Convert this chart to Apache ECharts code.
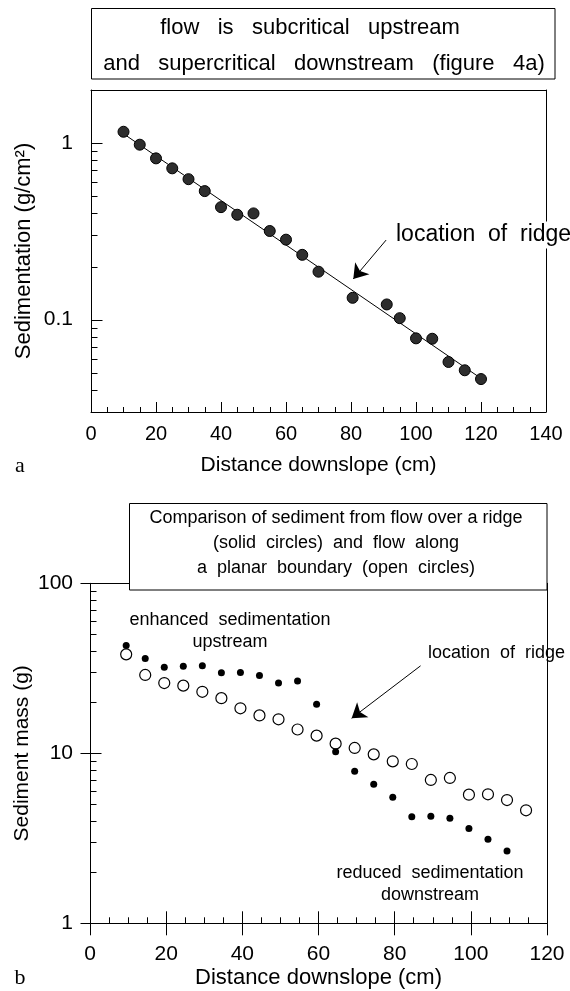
<!DOCTYPE html>
<html>
<head>
<meta charset="utf-8">
<script src="https://cdn.jsdelivr.net/npm/echarts@6/dist/echarts.min.js"></script>
<style>
  html, body { margin: 0; padding: 0; background: #fff; }
  #chart { width: 570px; height: 991px; }
</style>
</head>
<body>
<div id="chart"></div>
<script>
  // panel a: sedimentation along the slope, with fitted line
  var topX = [10, 15, 20, 25, 30, 35, 40, 45, 50, 55, 60, 65, 70, 80.5, 91, 95, 100, 105, 110, 115, 120]
  var topY = [1.16, 0.98, 0.82, 0.72, 0.625, 0.535, 0.434, 0.393, 0.40, 0.318, 0.284, 0.233, 0.187, 0.133, 0.122, 0.102, 0.0784, 0.078, 0.0576, 0.0517, 0.0461]
  var fitX = [10, 120]
  var fitY = [1.13, 0.0465]

  // panel b: ridge (solid) vs planar boundary (open)
  var solidX = [9.5, 14.5, 19.5, 24.5, 29.5, 34.5, 39.5, 44.5, 49.5, 54.5, 59.5, 64.5, 69.5, 74.5, 79.5, 84.5, 89.5, 94.5, 99.5, 104.5, 109.5]
  var solidY = [43.0, 36.1, 32.1, 32.5, 32.7, 29.8, 29.9, 28.7, 25.9, 26.6, 19.4, 10.2, 7.84, 6.57, 5.51, 4.24, 4.26, 4.15, 3.61, 3.12, 2.66]
  var openX = [9.5, 14.5, 19.5, 24.5, 29.5, 34.5, 39.5, 44.5, 49.5, 54.5, 59.5, 64.5, 69.5, 74.5, 79.5, 84.5, 89.5, 94.5, 99.5, 104.5, 109.5, 114.5]
  var openY = [38.2, 28.9, 25.9, 25.0, 23.0, 21.1, 18.4, 16.7, 15.85, 13.8, 12.7, 11.4, 10.75, 9.86, 8.97, 8.65, 6.97, 7.16, 5.71, 5.74, 5.31, 4.62]

  // log axis ticks
  var topYMajor = [0.1, 1]
  var topYLabels = ['0.1', '1']
  var topYMinor = [0.04, 0.05, 0.06, 0.07, 0.08, 0.09, 0.2, 0.3, 0.4, 0.5, 0.6, 0.7, 0.8, 0.9]
  var botYMajor = [1, 10, 100]
  var botYLabels = ['1', '10', '100']
  var botYMinor = [2, 3, 4, 5, 6, 7, 8, 9, 20, 30, 40, 50, 60, 70, 80, 90]

  // arrows: [tail, tip] in data units
  var topArrow = [[90.8, 0.2825], [80.7, 0.170]]
  var botArrow = [[86.8, 32.7], [68.7, 16.07]]

  var FONT = "'Liberation Sans', Arial, Helvetica, sans-serif"
  var SERIF = "'Liberation Serif', 'Times New Roman', serif"
  var black = '#000'

  function zip (xs, ys) {
    return xs.map(function (x, i) { return [x, ys[i]] })
  }
  function labelOf (values, labels) {
    return function (v) {
      for (var i = 0; i < values.length; i++) {
        if (Math.abs(Math.log10(values[i]) - Math.log10(v)) < 1e-6) return labels[i]
      }
      return ''
    }
  }
  var stroke = {color: black, width: 1}

  // x axis: only the parts passed in are switched on
  function xAx (grid, max, pos, extra) {
    return Object.assign({
      type: 'value', gridIndex: grid, min: 0, max: max, interval: 20, position: pos, z: 10,
      axisLine: {show: false, onZero: false, lineStyle: stroke},
      axisTick: {show: false, lineStyle: stroke},
      minorTick: {show: false, lineStyle: stroke},
      axisLabel: {show: false},
      splitLine: {show: false},
      minorSplitLine: {show: false},
      nameLocation: 'middle',
      nameMoveOverlap: false
    }, extra)
  }
  function yAx (grid, min, max, pos, extra) {
    return Object.assign({
      type: 'log', logBase: 10, gridIndex: grid, min: min, max: max, position: pos, offset: 0, z: 10,
      axisLine: {show: false, onZero: false, lineStyle: stroke},
      axisTick: {show: false},
      minorTick: {show: false},
      axisLabel: {show: false},
      splitLine: {show: false},
      minorSplitLine: {show: false},
      nameLocation: 'middle',
      nameMoveOverlap: false
    }, extra)
  }

  var chart = echarts.init(document.getElementById('chart'))
  chart.setOption({
    animation: false,
    backgroundColor: '#fff',
    grid: [
      {left: 91, top: 90, width: 455, height: 322, show: false, outerBoundsMode: 'none'},
      {left: 90, top: 583.3, width: 457, height: 340, show: false, outerBoundsMode: 'none'}
    ],
    xAxis: [
      // 0: panel a, bottom
      xAx(0, 140, 'bottom', {
        axisLine: {show: true, onZero: false, lineStyle: stroke},
        axisTick: {show: true, inside: true, length: 10, lineStyle: stroke},
        minorTick: {show: true, splitNumber: 4, length: 5, lineStyle: stroke},
        axisLabel: {show: true, margin: 12, fontSize: 20, color: black, fontFamily: FONT},
        name: 'Distance downslope (cm)', nameGap: 43,
        nameTextStyle: {fontSize: 21, color: black, fontFamily: FONT}
      }),
      // 1: panel a, top frame
      xAx(0, 140, 'top', {axisLine: {show: true, onZero: false, lineStyle: stroke}}),
      // 2: panel b, bottom
      xAx(1, 120, 'bottom', {
        axisLine: {show: true, onZero: false, lineStyle: stroke},
        axisTick: {show: true, inside: true, length: 12, lineStyle: stroke},
        minorTick: {show: true, splitNumber: 4, length: 6, lineStyle: stroke},
        axisLabel: {show: true, margin: 20, fontSize: 21, color: black, fontFamily: FONT},
        name: 'Distance downslope (cm)', nameGap: 44,
        nameTextStyle: {fontSize: 22, color: black, fontFamily: FONT}
      }),
      // 3: panel b, major ticks below the axis
      xAx(1, 120, 'bottom', {
        axisTick: {show: true, inside: false, length: 12, lineStyle: stroke}
      }),
      // 4: panel b, top frame
      xAx(1, 120, 'top', {axisLine: {show: true, onZero: false, lineStyle: stroke}})
    ],
    yAxis: [
      // 0: panel a, left axis with labels
      yAx(0, 0.03, 2, 'left', {
        axisLine: {show: true, onZero: false, lineStyle: stroke},
        axisLabel: {show: true, customValues: topYMajor, formatter: labelOf(topYMajor, topYLabels), margin: 18, fontSize: 21, color: black, fontFamily: FONT},
        name: 'Sedimentation (g/cm²)', nameGap: 56,
        nameTextStyle: {fontSize: 22, color: black, fontFamily: FONT}
      }),
      // 1: panel a, right frame
      yAx(0, 0.03, 2, 'right', {axisLine: {show: true, onZero: false, lineStyle: stroke}}),
      // 2: panel b, left axis with labels
      yAx(1, 1, 100, 'left', {
        axisLine: {show: true, onZero: false, lineStyle: stroke},
        axisLabel: {show: true, customValues: botYMajor, formatter: labelOf(botYMajor, botYLabels), margin: 17, fontSize: 21, color: black, fontFamily: FONT},
        name: 'Sediment mass (g)', nameGap: 57,
        nameTextStyle: {fontSize: 21, color: black, fontFamily: FONT}
      }),
      // 3: panel b, right frame
      yAx(1, 1, 100, 'right', {axisLine: {show: true, onZero: false, lineStyle: stroke}})
    ],
    series: [
      {
        type: 'line',
        xAxisIndex: 0, yAxisIndex: 0,
        data: zip(fitX, fitY),
        showSymbol: false,
        lineStyle: {color: black, width: 1},
        z: 2,
        markLine: {
          silent: true,
          symbol: ['none', 'arrow'],
          symbolSize: 14,
          label: {show: false},
          lineStyle: {color: black, width: 1, type: 'solid'},
          data: [[{coord: topArrow[0]}, {coord: topArrow[1]}]]
        }
      },
      {
        type: 'scatter',
        xAxisIndex: 0, yAxisIndex: 0,
        data: zip(topX, topY),
        symbolSize: 11,
        itemStyle: {color: '#2e2e2e', borderColor: '#000', borderWidth: 1, opacity: 1},
        z: 3
      },
      {
        type: 'scatter',
        xAxisIndex: 2, yAxisIndex: 2,
        data: zip(openX, openY),
        symbolSize: 11,
        itemStyle: {color: '#fff', borderColor: black, borderWidth: 1.2, opacity: 1},
        z: 3
      },
      {
        type: 'scatter',
        xAxisIndex: 2, yAxisIndex: 2,
        data: zip(solidX, solidY),
        symbolSize: 7,
        itemStyle: {color: black, opacity: 1},
        z: 4,
        markLine: {
          silent: true,
          symbol: ['none', 'arrow'],
          symbolSize: 14,
          label: {show: false},
          lineStyle: {color: black, width: 1, type: 'solid'},
          data: [[{coord: botArrow[0]}, {coord: botArrow[1]}]]
        }
      }
    ]
  })

  // log-axis tick marks on the left edge, placed through the axis scale
  function tickLines (finder, values, inner, outer) {
    return values.map(function (v) {
      var p = chart.convertToPixel(finder, [0, v])
      var y = Math.round(p[1]) + 0.5
      var x = Math.round(p[0]) + 0.5
      return {
        type: 'line', z: 40, silent: true,
        shape: {x1: x - outer, y1: y, x2: x + inner, y2: y},
        style: {stroke: black, lineWidth: 1}
      }
    })
  }
  var gridA = {xAxisIndex: 0, yAxisIndex: 0}
  var gridB = {xAxisIndex: 2, yAxisIndex: 2}

  function txt (x, y, text, size, align, extra) {
    return {type: 'text', z: 51, x: x, y: y,
      style: Object.assign({text: text, fill: black, fontSize: size, fontFamily: FONT, align: align || 'center', verticalAlign: 'middle'}, extra)}
  }

  var decorations = [
    {type: 'rect', z: 50, shape: {x: 91.5, y: 8.5, width: 463.5, height: 70.5},
      style: {fill: '#fff', stroke: black, lineWidth: 1}},
    txt(310, 28, 'flow   is   subcritical   upstream', 22),
    txt(324, 64, 'and   supercritical   downstream   (figure   4a)', 22),
    txt(395, 235, 'location  of  ridge', 23, 'left', {backgroundColor: '#fff', padding: [2, 1]}),
    txt(20, 466, 'a', 22, 'center', {fontFamily: SERIF}),

    {type: 'rect', z: 50, shape: {x: 129.5, y: 503.5, width: 417.5, height: 86.5},
      style: {fill: '#fff', stroke: black, lineWidth: 1}},
    txt(336, 518, 'Comparison of sediment from flow over a ridge', 18),
    txt(336, 543, '(solid  circles)  and  flow  along', 18),
    txt(336, 568, 'a  planar  boundary  (open  circles)', 18),
    txt(230, 620, 'enhanced  sedimentation', 18),
    txt(230, 642, 'upstream', 18),
    txt(428, 653, 'location  of  ridge', 18, 'left'),
    txt(430, 873, 'reduced  sedimentation', 18),
    txt(430, 895, 'downstream', 18),
    txt(20, 978, 'b', 22, 'center', {fontFamily: SERIF})
  ].concat(
    tickLines(gridA, topYMajor, 11, 0),
    tickLines(gridA, topYMinor, 6, 0),
    tickLines(gridB, botYMajor, 11, 10),
    tickLines(gridB, botYMinor, 6, 0)
  )

  chart.setOption({graphic: decorations})
</script>
</body>
</html>
